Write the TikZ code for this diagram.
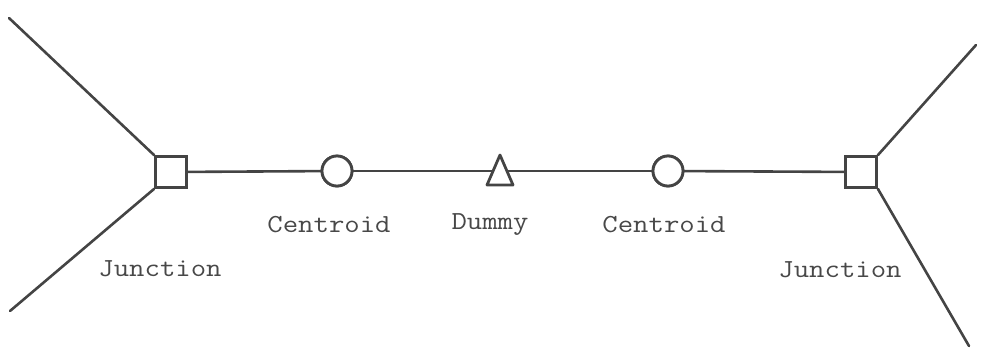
\documentclass[tikz,border=0pt]{standalone}
\usepackage{fontspec}
\usepackage{graphicx}
\usetikzlibrary{shapes.geometric}
\definecolor{ink}{HTML}{444444}
\definecolor{txt}{HTML}{484848}
\newcommand{\wide}[1]{\scalebox{1.15}[1]{#1}}
\begin{document}
\begin{tikzpicture}[x=1pt,y=-1pt,
  wire/.style={draw=ink,line width=2.6pt,line cap=round},
  junc/.style={draw=ink,line width=2.8pt,fill=white,minimum size=31pt,inner sep=0pt,shape=rectangle},
  cent/.style={draw=ink,line width=2.8pt,fill=white,minimum size=30pt,inner sep=0pt,shape=circle},
  lbl/.style={text=txt,font=\fontsize{26}{28}\selectfont\ttfamily,inner sep=0pt,anchor=center}]
\useasboundingbox (0,0) rectangle (986,360);
% end points
\coordinate (lt) at (9,18);
\coordinate (lb) at (10,311);
\coordinate (rt) at (976,45);
\coordinate (rb) at (969,346);
% nodes
\node[junc] (j1) at (171,172) {};
\node[cent] (c1) at (337,171) {};
\node[cent] (c2) at (668,171) {};
\node[junc] (j2) at (861,172) {};
% wires
\draw[wire] (j1.north west) -- (lt);
\draw[wire] (j1.south west) -- (lb);
\draw[wire] (j2.north east) -- (rt);
\draw[wire] (j2.south east) -- (rb);
\draw[wire] (j1) -- (c1);
\draw[wire] (c1) -- (c2);
\draw[wire] (c2) -- (j2);
% redraw shapes on top
\node[junc] at (j1) {};
\node[cent] at (c1) {};
\node[cent] at (c2) {};
\node[junc] at (j2) {};
\draw[draw=ink,line width=2.8pt,fill=white,line join=round] (500,155) -- (513,185) -- (487,185) -- cycle;
% labels
\node[lbl] (l1) at (329,225) {\wide{Centroid}};
\node[lbl] (l2) at (490,225) {\wide{Dummy}};
\node[lbl] (l3) at (664,225) {\wide{Centroid}};
\node[lbl] (l4) at (160,269) {\wide{Junction}};
\node[lbl] (l5) at (840,270) {\wide{Junction}};
\end{tikzpicture}
\end{document}
